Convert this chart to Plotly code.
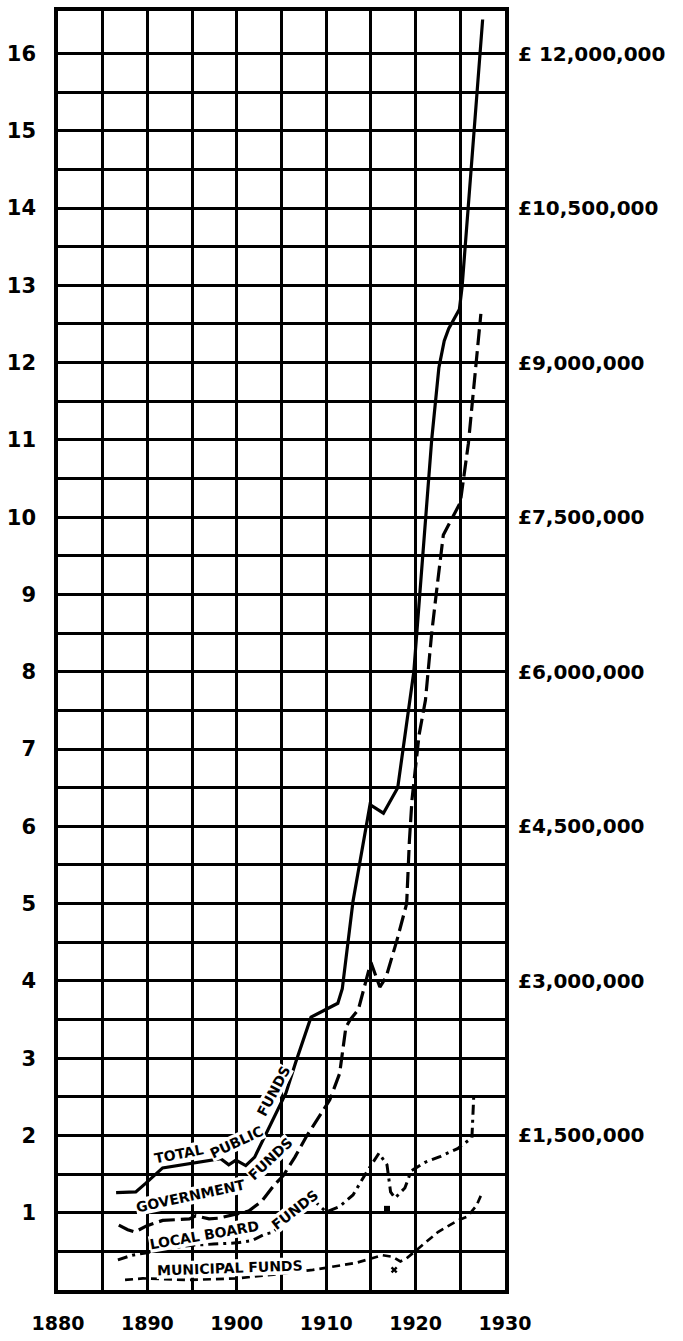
import plotly.graph_objects as go

# ---- data (amounts in £ units of 750,000; left scale) ----
total_years = [1886.5, 1888.7, 1889.8, 1891.0, 1891.7, 1898.2, 1899.1, 1899.9, 1901.0,
               1902.0, 1903.2, 1904.4, 1905.5, 1906.6, 1908.3, 1911.3, 1911.8, 1913.0,
               1914.9, 1916.4, 1918.0, 1919.8, 1921.8, 1922.6, 1923.2, 1923.7, 1924.9,
               1925.2, 1927.5]
total_funds = [1.26, 1.27, 1.38, 1.50, 1.58, 1.70, 1.62, 1.68, 1.61,
               1.72, 2.00, 2.28, 2.55, 2.95, 3.53, 3.71, 3.90, 5.03,
               6.28, 6.17, 6.50, 8.00, 11.00, 11.93, 12.28, 12.44, 12.69,
               12.98, 16.44]

govt_years = [1886.8, 1887.8, 1888.6, 1889.9, 1891.7, 1894.7, 1895.4, 1896.9, 1898.0,
              1899.8, 1901.3, 1902.8, 1904.2, 1905.2, 1906.5, 1907.8, 1910.4, 1911.5,
              1912.0, 1912.2, 1912.7, 1913.6, 1915.0, 1916.0, 1916.7, 1917.9, 1919.0,
              1919.3, 1919.6, 1920.4, 1921.1, 1921.8, 1922.3, 1923.1, 1925.0, 1925.9,
              1927.3]
govt_funds = [0.84, 0.78, 0.75, 0.83, 0.90, 0.92, 0.96, 0.92, 0.93,
              0.98, 1.02, 1.15, 1.36, 1.48, 1.72, 1.99, 2.46, 2.80,
              3.19, 3.40, 3.50, 3.63, 4.24, 3.92, 4.05, 4.52, 5.00,
              5.80, 6.35, 7.19, 7.63, 8.50, 9.00, 9.77, 10.19, 10.95,
              12.63]

local_years = [1886.7, 1888.3, 1889.8, 1892.1, 1895.1, 1897.6, 1900.0, 1901.7, 1903.1,
               1904.1, 1905.4, 1906.3, 1908.2, 1908.7, 1910.0, 1911.5, 1913.0, 1914.6,
               1915.9, 1916.8, 1917.2, 1917.7, 1918.8, 1919.5, 1921.0, 1922.8, 1924.7,
               1926.3, 1926.5]
local_funds = [0.39, 0.45, 0.48, 0.54, 0.58, 0.60, 0.61, 0.64, 0.72,
               0.75, 0.91, 0.93, 1.12, 1.15, 1.01, 1.08, 1.23, 1.54,
               1.77, 1.62, 1.27, 1.19, 1.32, 1.54, 1.65, 1.73, 1.83,
               1.97, 2.50]

muni_years = [1887.5, 1889.5, 1894.6, 1900.0, 1904.1, 1908.5, 1913.3, 1916.3, 1917.4,
              1918.3, 1919.0, 1920.5, 1922.5, 1924.7, 1925.8, 1926.8, 1927.3]
muni_funds = [0.13, 0.15, 0.13, 0.15, 0.20, 0.26, 0.35, 0.45, 0.43,
              0.37, 0.41, 0.56, 0.75, 0.90, 0.95, 1.09, 1.22]

# isolated reference marks
square_mark = ([1916.8], [1.05])
cross_mark = ([1917.6], [0.26])

# ---- axes / labels ----
x_grid = [1880, 1885, 1890, 1895, 1900, 1905, 1910, 1915, 1920, 1925, 1930]
x_labels = ["1880", "", "1890", "", "1900", "", "1910", "", "1920", "", "1930"]
y_grid = [v / 2 for v in range(1, 33)]
y_labels = [str(int(v)) if v == int(v) else "" for v in y_grid]
money_ticks = [2, 4, 6, 8, 10, 12, 14, 16]
money_labels = ["£1,500,000", "£3,000,000", "£4,500,000", "£6,000,000",
                "£7,500,000", "£9,000,000", "£10,500,000", "£ 12,000,000"]
y_range = [0, 16.55]


def bold(labels):
    return [f"<b>{s}</b>" if s else "" for s in labels]


INK = "black"
FACE = "DejaVu Sans"

fig = go.Figure()
fig.add_trace(go.Scatter(x=muni_years, y=muni_funds, mode="lines", yaxis="y2",
                         line=dict(color=INK, width=2.7, dash="8px,5px"),
                         name="Municipal Funds", hoverinfo="skip"))
fig.add_trace(go.Scatter(x=local_years, y=local_funds, mode="lines",
                         line=dict(color=INK, width=3, dash="10px,5px,3px,5px"),
                         name="Local Board Funds", hoverinfo="skip"))
fig.add_trace(go.Scatter(x=govt_years, y=govt_funds, mode="lines",
                         line=dict(color=INK, width=3.2, dash="16px,6px"),
                         name="Government Funds", hoverinfo="skip"))
fig.add_trace(go.Scatter(x=total_years, y=total_funds, mode="lines",
                         line=dict(color=INK, width=3.2),
                         name="Total Public Funds", hoverinfo="skip"))
fig.add_trace(go.Scatter(x=square_mark[0], y=square_mark[1], mode="markers",
                         marker=dict(symbol="square", size=6, color=INK),
                         hoverinfo="skip"))
fig.add_trace(go.Scatter(x=cross_mark[0], y=cross_mark[1], mode="markers",
                         marker=dict(symbol="x", size=6, color=INK),
                         hoverinfo="skip"))

# curve captions, written along the lines
label_font = dict(family=FACE, size=14, color=INK)
captions = [
    ("TOTAL", 1893.5, 1.76, -11),
    ("PUBLIC", 1900.0, 1.92, -25),
    ("FUNDS", 1904.1, 2.58, -62),
    ("GOVERNMENT", 1894.8, 1.22, -12),
    ("FUNDS", 1903.7, 1.70, -43),
    ("LOCAL BOARD", 1896.4, 0.71, -10),
    ("FUNDS", 1906.5, 1.03, -38),
    ("MUNICIPAL FUNDS", 1899.2, 0.28, -2),
]
for text, cx, cy, ang in captions:
    fig.add_annotation(x=cx, y=cy, text=f"<b>{text}</b>", showarrow=False,
                       textangle=ang, font=label_font, bgcolor="white", borderpad=0,
                       xanchor="center", yanchor="middle")

grid_style = dict(showgrid=True, gridcolor=INK, gridwidth=3,
                  showline=True, mirror=True, linecolor=INK, linewidth=3.5,
                  zeroline=False, ticks="", fixedrange=True)

fig.update_layout(
    width=683, height=1341,
    margin=dict(l=52, r=178, t=7, b=39),
    paper_bgcolor="white", plot_bgcolor="white",
    showlegend=False,
    xaxis=dict(range=[1880, 1930], tickmode="array", tickvals=x_grid,
               ticktext=bold(x_labels),
               tickfont=dict(family=FACE, size=19, color=INK, weight="bold"),
               ticklabelstandoff=13, **grid_style),
    yaxis=dict(range=y_range, tickmode="array", tickvals=y_grid,
               ticktext=bold(y_labels),
               tickfont=dict(family=FACE, size=21, color=INK, weight="bold"),
               ticklabelstandoff=14, **grid_style),
    yaxis2=dict(range=y_range, overlaying="y", side="right", tickmode="array",
                tickvals=money_ticks, ticktext=bold(money_labels), showgrid=False,
                zeroline=False, showline=False, ticks="", fixedrange=True,
                tickfont=dict(family=FACE, size=20, color=INK, weight="bold"),
                ticklabelstandoff=12),
)

fig.write_html("out.html")
